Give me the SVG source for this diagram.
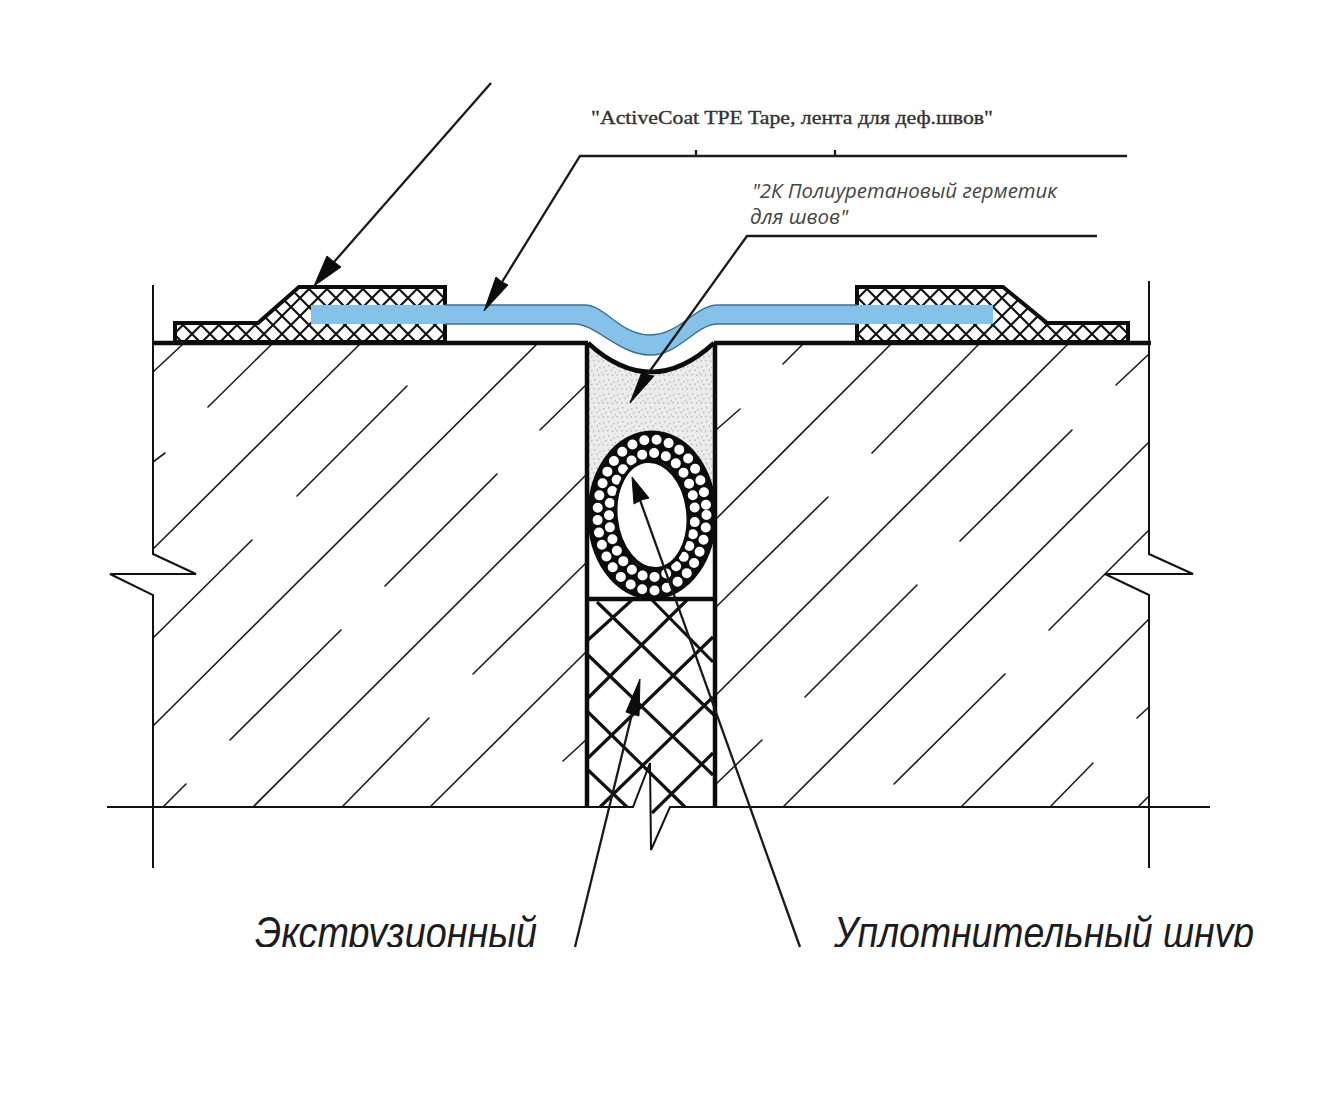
<svg xmlns="http://www.w3.org/2000/svg" width="1324" height="1114" viewBox="0 0 1324 1114">
  <defs>
    <pattern id="fineHatch" patternUnits="userSpaceOnUse" width="18" height="18" patternTransform="translate(3,1)">
      <path d="M0,0 L18,18 M18,0 L0,18 M-2,16 L2,20 M16,-2 L20,2 M-2,2 L2,-2 M16,20 L20,16" stroke="#111" stroke-width="2.200" fill="none"/>
    </pattern>
    <pattern id="stipple" patternUnits="userSpaceOnUse" width="14" height="14">
      <rect width="14" height="14" fill="#ebebeb"/>
      <path d="M1,2h1.5v1.5h-1.5z M6,1h1.5v1.5h-1.5z M11,3h1.5v1.5h-1.5z M3,6h1.5v1.5h-1.5z M8.500,5.500h1.500v1.500h-1.500z M13,8h1v1.500h-1z M0.500,10h1.500v1.500h-1.500z M5,10h1.500v1.500h-1.500z M10,10.500h1.500v1.500h-1.500z" fill="#bcbcbc"/>
      <path d="M3.500,3h1v1h-1z M9,2.500h1v1h-1z M6,7.500h1v1h-1z M11,7h1v1h-1z M2.500,12.500h1v1h-1z M7.500,12.500h1v1h-1z" fill="#fafafa"/>
    </pattern>
    <clipPath id="bottomCut"><rect x="0" y="880" width="1324" height="67"/></clipPath>
    <clipPath id="sealClip"><path d="M588,343 Q651,401 714,343 V515 H588 Z"/></clipPath>
    <style>
      .hatch { stroke:#1c1c1c; stroke-width:1.6; fill:none; stroke-linecap:round; }
      .outline { stroke:#111; stroke-width:2; fill:none; }
      .thick { stroke:#0c0c0c; stroke-width:4.500; fill:none; }
      .cross { stroke:#111; stroke-width:3.200; fill:none; }
      .leader { stroke:#1a1a1a; stroke-width:2.300; fill:none; }
      .head { fill:#0c0c0c; stroke:#0c0c0c; stroke-width:1; stroke-linejoin:round; }
      .block { fill:url(#fineHatch); stroke:#0c0c0c; stroke-width:4; stroke-linejoin:miter; }
      .big { font-family:"Liberation Sans",Arial,sans-serif; font-style:italic; font-size:44px; fill:#1c1c1c; }
    </style>
  </defs>
  <rect width="1324" height="1114" fill="#ffffff"/>

  <g id="concrete-left">
    <path class="hatch" d="M153,372L183,344 M208,407L272,344 M153,549L360,344 M297,496L407,386 M153,726L537,344 M153,638L252,540 M385,586L497,474 M540,430L587,384 M153,462L165,453 M230,740L341,630 M253,807L587,474 M342,807L429,718 M430,807L587,651 M473,674L587,562 M563,761L587,739 M163,807L186,784"/>
    <path class="outline" d="M153,285V554L196,574H110L153,595V868"/>
  </g>
  <g id="concrete-right">
    <path class="hatch" d="M783,364L803,344 M716,430L740,409 M716,519L891,344 M872,453L979,344 M716,607L828,497 M716,695L1068,344 M960,541L1072,430 M1116,385L1149,354 M805,697L917,585 M783,807L1149,442 M1049,630L1149,530 M716,784L762,740 M894,784L1005,674 M961,807L1149,619 M1137,718L1149,707 M1050,807L1093,763 M1138,807L1149,796"/>
    <path class="outline" d="M1149,281V554L1193,574H1105L1149,595V868"/>
  </g>
  <g id="base-line">
    <path class="outline" d="M107,807H633L650,763L651,850L670,807H1210"/>
  </g>

  <g id="sealant">
    <rect x="588" y="343" width="126" height="172" fill="url(#stipple)" clip-path="url(#sealClip)"/>
  </g>

  <g id="backer-board">
    <path class="cross" d="M597,602L714,715 M588,655L713,775 M588,712L685,807 M588,770L627,807 M652,600L713,662 M588,640L632,600 M588,698L687,600 M588,758L713,637 M600,807L713,697 M652,813L713,753"/>
    <path class="thick" d="M587,599H715" stroke-width="3"/>
  </g>

  <g id="backer-rod">
    <ellipse cx="652" cy="515" rx="49.500" ry="69.500" fill="none" stroke="#0c0c0c" stroke-width="30"/>
    <ellipse cx="652" cy="515" rx="54.500" ry="75.500" fill="none" stroke="#ffffff" stroke-width="10" stroke-linecap="round" stroke-dasharray="0 12.500"/>
    <ellipse cx="652" cy="515" rx="43" ry="62" fill="none" stroke="#ffffff" stroke-width="10" stroke-linecap="round" stroke-dasharray="0 12.200" stroke-dashoffset="5"/>
    <ellipse cx="652" cy="515" rx="36" ry="54" fill="#ffffff" stroke="#0c0c0c" stroke-width="3.500" transform="rotate(-6 652 515)"/>
  </g>

  <g id="joint-walls">
    <path class="thick" d="M587,343V807 M715,343V807"/>
    <path class="thick" d="M153,343H588 M714,343H1151" stroke-width="3.500"/>
    <path class="thick" d="M588,343Q651,401 714,343" stroke-width="3.500"/>
  </g>

  <g id="adhesive-left">
    <path class="block" d="M175,342V323H258L299,287H445V342Z"/>
  </g>
  <g id="adhesive-right">
    <path class="block" d="M857,342V287H1003L1047,323H1128V342Z"/>
  </g>

  <g id="tape">
    <path fill="#85c1e9" d="M311,305H585C605,305 620,335 650,335C680,335 695,305 718,305H993V324H718C695,324 680,355 650,355C620,355 595,324 575,324H311Z"/>
    <path fill="none" stroke="#3f6f8e" stroke-width="1.400" d="M445,305H585C605,305 620,335 650,335C680,335 695,305 718,305H857 M857,324H718C695,324 680,355 650,355C620,355 595,324 575,324H445"/>
  </g>

  <g id="connectors">
    <path class="leader" d="M491,83L334,262"/>
    <polygon class="head" points="314,286 327,256 333,261 341,267"/>
    <path class="leader" d="M1127,156H580L502,282"/>
    <polygon class="head" points="484,311 496,277 502,282 508,285"/>
    <path class="leader" d="M696,150V155 M835,150V155"/>
    <path class="leader" d="M1097,236H747L647,375"/>
    <polygon class="head" points="630,403 642,372 647,375 654,376"/>
    <path class="leader" d="M640,500L800,947"/>
    <polygon class="head" points="632,477 649,498 641,500 634,504"/>
    <path class="leader" d="M632,714L575,947"/>
    <polygon class="head" points="640,679 639,716 632,714 626,712"/>
  </g>

  <g id="labels">
    <text x="591" y="124" font-family="'Liberation Serif','Times New Roman',serif" font-size="18.500" fill="#333" stroke="#333" stroke-width="0.350" textLength="402" lengthAdjust="spacingAndGlyphs">"ActiveCoat TPE Tape, лента для деф.швов"</text>
    <text x="752" y="198" font-family="'Open Sans','Noto Sans',sans-serif" font-style="italic" font-size="19.500" fill="#444" textLength="305" lengthAdjust="spacingAndGlyphs">"2К Полиуретановый герметик</text>
    <text x="750" y="224" font-family="'Open Sans','Noto Sans',sans-serif" font-style="italic" font-size="19.500" fill="#444" textLength="98" lengthAdjust="spacingAndGlyphs">для швов"</text>
    <g clip-path="url(#bottomCut)">
      <text class="big" x="255" y="948" textLength="282" lengthAdjust="spacingAndGlyphs">Экструзионный</text>
      <text class="big" x="834" y="948" textLength="420" lengthAdjust="spacingAndGlyphs">Уплотнительный шнур</text>
    </g>
  </g>
</svg>
